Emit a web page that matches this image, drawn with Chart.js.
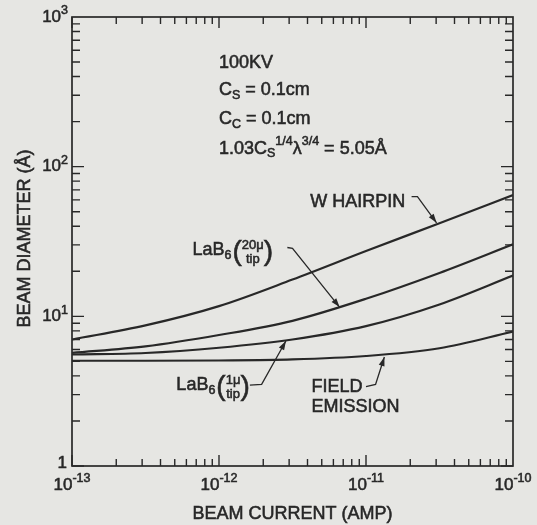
<!DOCTYPE html>
<html>
<head>
<meta charset="utf-8">
<script src="https://cdn.jsdelivr.net/npm/chart.js@4.4.1/dist/chart.umd.min.js"></script>
<style>
  html, body { margin: 0; padding: 0; background: #e6e6e3; }
</style>
</head>
<body>
<canvas id="beam-chart" width="537" height="525"></canvas>
<script>
// beam current (A) at half-decade steps
const beamCurrent = [1e-13, 3.16e-13, 1e-12, 3.16e-12, 1e-11, 3.16e-11, 1e-10];

// beam diameter (Å)
const wHairpin      = [7.0, 8.7, 11.7, 17.6, 27.3, 41.9, 64.6];
const lab6Tip20     = [5.7, 6.3, 7.5, 9.33, 13.1, 19.5, 30.3];
const lab6Tip1      = [5.56, 5.69, 6.17, 7.0, 8.6, 12.0, 18.7];
const fieldEmission = [5.05, 5.05, 5.07, 5.15, 5.43, 6.12, 7.9];

const seriesNames = ['W HAIRPIN', 'LaB6 (20μ tip)', 'LaB6 (1μ tip)', 'FIELD EMISSION'];

// axis decades (powers of ten)
const xDecades = [-13, -12, -11, -10];
const yDecades = [0, 1, 2, 3];

const ink = '#282828';
const font = '"Liberation Sans", Arial, sans-serif';

function pairs(values) {
    return values.map((v, i) => ({ x: beamCurrent[i], y: v }));
}

// ink lettering: fill plus a hairline stroke so it looks a bit heavier
function put(ctx, t, x, y) {
    ctx.fillText(t, x, y);
    ctx.save();
    ctx.lineWidth = 0.55;
    ctx.strokeText(t, x, y);
    ctx.restore();
}

// text with sub/superscripts, drawn left to right, returns end x
function drawRich(ctx, segs, x, y) {
    let cx = x;
    for (const s of segs) {
        const size = s.sub || s.sup ? 12.5 : 18;
        ctx.font = size + 'px ' + font;
        const dy = s.sub ? 5 : s.sup ? -7 : 0;
        put(ctx, s.t, cx, y + dy);
        cx += ctx.measureText(s.t).width;
    }
    return cx;
}

// "LaB6( top / bottom )" label
function drawLab6(ctx, top, x, y) {
    let cx = drawRich(ctx, [{ t: 'LaB' }, { t: '6', sub: true }], x, y);
    ctx.font = '28px ' + font;
    put(ctx, '(', cx + 1, y + 2);
    cx += ctx.measureText('(').width + 1;
    ctx.font = '13px ' + font;
    const w = Math.max(ctx.measureText(top).width, ctx.measureText('tip').width);
    ctx.textAlign = 'center';
    put(ctx, top, cx + w / 2, y - 5);
    put(ctx, 'tip', cx + w / 2, y + 9);
    ctx.textAlign = 'left';
    cx += w;
    ctx.font = '28px ' + font;
    put(ctx, ')', cx, y + 2);
}

function drawArrow(ctx, pts) {
    ctx.beginPath();
    ctx.moveTo(pts[0][0], pts[0][1]);
    for (let i = 1; i < pts.length; i++) ctx.lineTo(pts[i][0], pts[i][1]);
    ctx.stroke();
    const [x1, y1] = pts[pts.length - 2];
    const [x2, y2] = pts[pts.length - 1];
    const a = Math.atan2(y2 - y1, x2 - x1);
    ctx.beginPath();
    ctx.moveTo(x2, y2);
    ctx.lineTo(x2 - 9 * Math.cos(a) + 3 * Math.sin(a), y2 - 9 * Math.sin(a) - 3 * Math.cos(a));
    ctx.lineTo(x2 - 9 * Math.cos(a) - 3 * Math.sin(a), y2 - 9 * Math.sin(a) + 3 * Math.cos(a));
    ctx.closePath();
    ctx.fill();
}

const paperPlugin = {
    id: 'paper',
    beforeDraw(chart) {
        const ctx = chart.ctx;
        ctx.save();
        ctx.fillStyle = '#e6e6e3';
        ctx.fillRect(0, 0, chart.width, chart.height);
        ctx.restore();
    },
    afterDraw(chart) {
        const { ctx, chartArea: a, scales: { x, y } } = chart;
        // position in (log10 current, log10 diameter) through the scales
        const P = (li, ld) => [x.getPixelForValue(10 ** li), y.getPixelForValue(10 ** ld)];

        ctx.save();
        ctx.strokeStyle = ink;
        ctx.fillStyle = ink;
        ctx.lineWidth = 1.7;
        ctx.strokeRect(a.left, a.top, a.right - a.left, a.bottom - a.top);

        // inward ticks on all four sides
        ctx.lineWidth = 1.4;
        ctx.beginPath();
        for (let i = 0; i < xDecades.length - 1; i++) {
            for (let m = 1; m <= 9; m++) {
                const px = x.getPixelForValue(m * 10 ** xDecades[i]);
                const len = m === 1 ? 11 : 7;
                ctx.moveTo(px, a.bottom); ctx.lineTo(px, a.bottom - len);
                ctx.moveTo(px, a.top); ctx.lineTo(px, a.top + len);
            }
        }
        for (let i = 0; i < yDecades.length - 1; i++) {
            for (let m = 1; m <= 9; m++) {
                const py = y.getPixelForValue(m * 10 ** yDecades[i]);
                const len = m === 1 ? 12 : 8;
                ctx.moveTo(a.left, py); ctx.lineTo(a.left + len, py);
                ctx.moveTo(a.right, py); ctx.lineTo(a.right - len, py);
            }
        }
        ctx.stroke();

        // tick labels
        ctx.textBaseline = 'middle';
        for (const d of xDecades) {
            const px = x.getPixelForValue(10 ** d);
            ctx.font = '17px ' + font;
            const wb = ctx.measureText('10').width;
            ctx.font = '12.5px ' + font;
            const we = ctx.measureText(String(d)).width;
            const sx = px - (wb + we) / 2;
            ctx.font = '17px ' + font;
            put(ctx, '10', sx, a.bottom + 19);
            ctx.font = '12.5px ' + font;
            put(ctx, String(d), sx + wb, a.bottom + 13);
        }
        for (const d of yDecades) {
            const py = y.getPixelForValue(10 ** d);
            const rx = a.left - 4;
            if (d === 0) {
                ctx.font = '17px ' + font;
                ctx.textAlign = 'right';
                put(ctx, '1', rx - 1, py - 3);
                ctx.textAlign = 'left';
                continue;
            }
            ctx.font = '12.5px ' + font;
            const we = ctx.measureText(String(d)).width;
            put(ctx, String(d), rx - we, py - 6);
            ctx.font = '17px ' + font;
            const wb = ctx.measureText('10').width;
            put(ctx, '10', rx - we - wb, py);
        }

        // axis titles
        ctx.font = '18px ' + font;
        ctx.textAlign = 'center';
        put(ctx, 'BEAM CURRENT (AMP)', (a.left + a.right) / 2, a.bottom + 48);
        ctx.save();
        ctx.translate(a.left - 47, (a.top + a.bottom) / 2 - 3);
        ctx.rotate(-Math.PI / 2);
        put(ctx, 'BEAM DIAMETER (Å)', 0, 0);
        ctx.restore();
        ctx.textAlign = 'left';

        // parameter block
        let p = P(-12.0, 2.69);
        drawRich(ctx, [{ t: '100KV' }], p[0], p[1]);
        p = P(-12.0, 2.51);
        drawRich(ctx, [{ t: 'C' }, { t: 'S', sub: true }, { t: ' = 0.1cm' }], p[0], p[1]);
        p = P(-12.0, 2.315);
        drawRich(ctx, [{ t: 'C' }, { t: 'C', sub: true }, { t: ' = 0.1cm' }], p[0], p[1]);
        p = P(-12.0, 2.12);
        drawRich(ctx, [{ t: '1.03C' }, { t: 'S', sub: true }, { t: '1/4', sup: true }, { t: 'λ' },
            { t: '3/4', sup: true }, { t: ' = 5.05Å' }], p[0], p[1]);

        // curve labels and arrows
        ctx.lineWidth = 1.3;
        p = P(-11.38, 1.765);
        drawRich(ctx, [{ t: 'W HAIRPIN' }], p[0], p[1]);
        drawArrow(ctx, [P(-10.69, 1.80), P(-10.65, 1.80), P(-10.52, 1.625)]);

        p = P(-12.18, 1.44);
        drawLab6(ctx, '20μ', p[0], p[1]);
        drawArrow(ctx, [P(-11.535, 1.46), P(-11.50, 1.455), P(-11.18, 1.062)]);

        p = P(-12.29, 0.54);
        drawLab6(ctx, '1μ', p[0], p[1]);
        drawArrow(ctx, [P(-11.79, 0.54), P(-11.71, 0.545), P(-11.545, 0.835)]);

        p = P(-11.37, 0.528);
        drawRich(ctx, [{ t: 'FIELD' }], p[0], p[1]);
        p = P(-11.37, 0.394);
        drawRich(ctx, [{ t: 'EMISSION' }], p[0], p[1]);
        drawArrow(ctx, [P(-11.0, 0.53), P(-10.935, 0.545), P(-10.875, 0.728)]);

        ctx.restore();
    }
};

const lineStyle = {
    borderColor: ink,
    borderWidth: 2.2,
    pointRadius: 0,
    fill: false,
    cubicInterpolationMode: 'monotone'
};

new Chart(document.getElementById('beam-chart'), {
    type: 'line',
    data: {
        datasets: [
            { label: seriesNames[0], data: pairs(wHairpin), ...lineStyle },
            { label: seriesNames[1], data: pairs(lab6Tip20), ...lineStyle },
            { label: seriesNames[2], data: pairs(lab6Tip1), ...lineStyle },
            { label: seriesNames[3], data: pairs(fieldEmission), ...lineStyle }
        ]
    },
    options: {
        responsive: false,
        animation: false,
        layout: { padding: { left: 72, right: 24, top: 17, bottom: 59 } },
        plugins: {
            legend: { display: false },
            tooltip: { enabled: false }
        },
        scales: {
            x: { type: 'logarithmic', min: 1e-13, max: 1e-10, display: false },
            y: { type: 'logarithmic', min: 1, max: 1000, display: false }
        }
    },
    plugins: [paperPlugin]
});
</script>
</body>
</html>
